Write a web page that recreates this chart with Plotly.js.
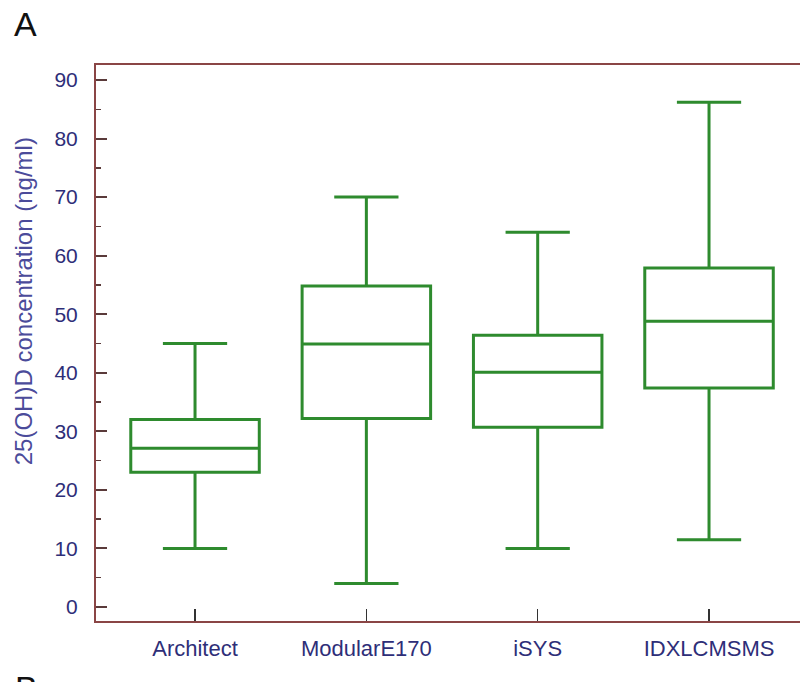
<!DOCTYPE html>
<html>
<head>
<meta charset="utf-8">
<script src="https://cdn.plot.ly/plotly-3.0.1.min.js"></script>
<style>html,body{margin:0;padding:0;background:#fff;}#chart{width:800px;height:682px;}</style>
</head>
<body>
<div id="chart"></div>
<script>
var categories = ["Architect", "ModularE170", "iSYS", "IDXLCMSMS"];
var lowerWhisker = [10.0, 4.0, 10.0, 11.5];
var q1Values = [23.0, 32.2, 30.7, 37.4];
var medianValues = [27.1, 44.9, 40.1, 48.8];
var q3Values = [32.0, 54.8, 46.4, 57.9];
var upperWhisker = [45.0, 70.0, 64.0, 86.2];
var yTickValues = [0, 10, 20, 30, 40, 50, 60, 70, 80, 90];
var yTitle = "25(OH)D concentration (ng/ml)";

var green = "#2e8b2e";
var trace = {
  type: "box",
  x: categories,
  q1: q1Values,
  median: medianValues,
  q3: q3Values,
  lowerfence: lowerWhisker,
  upperfence: upperWhisker,
  width: 0.75,
  whiskerwidth: 0.5,
  fillcolor: "#ffffff",
  line: {color: green, width: 3},
  boxpoints: false,
  hoverinfo: "skip",
  showlegend: false
};

var layout = {
  width: 800,
  height: 682,
  margin: {l: 96, r: 0, t: 65, b: 61, pad: 0},
  paper_bgcolor: "#ffffff",
  plot_bgcolor: "#ffffff",
  font: {family: "Liberation Sans, Arial, sans-serif"},
  xaxis: {
    type: "category",
    range: [-0.578, 3.531],
    showline: true,
    linecolor: "#8a4545",
    linewidth: 2,
    mirror: true,
    ticks: "inside",
    ticklen: 12,
    tickwidth: 1.5,
    tickcolor: "#333333",
    ticklabelstandoff: 7,
    showgrid: false,
    zeroline: false,
    tickfont: {size: 22, color: "#2e2e78"}
  },
  yaxis: {
    range: [-2.39, 92.56],
    tickvals: yTickValues,
    showline: true,
    linecolor: "#8a4545",
    linewidth: 2,
    ticks: "inside",
    ticklen: 11,
    tickwidth: 2,
    tickcolor: "#5a3a3a",
    ticklabelstandoff: 12,
    minor: {dtick: 5, tick0: 0, ticks: "inside", ticklen: 5, tickwidth: 1.5, tickcolor: "#5a3a3a"},
    showgrid: false,
    zeroline: false,
    tickfont: {size: 21, color: "#2e2e78"}
  },
  annotations: [
    {text: yTitle, textangle: -90, xref: "paper", yref: "paper", x: -0.103, y: 0.576,
     xanchor: "center", yanchor: "middle", showarrow: false,
     font: {size: 24, color: "#4b4b9a"}},
    {text: "A", xref: "paper", yref: "paper", x: -0.12, y: 1.074, xanchor: "left", yanchor: "middle",
     showarrow: false, font: {size: 34, color: "#111111"}},
    {text: "B", xref: "paper", yref: "paper", x: -0.118, y: -0.083, xanchor: "left", yanchor: "top",
     showarrow: false, font: {size: 34, color: "#111111"}}
  ]
};

Plotly.newPlot("chart", [trace], layout, {displayModeBar: false, staticPlot: true});
</script>
</body>
</html>
